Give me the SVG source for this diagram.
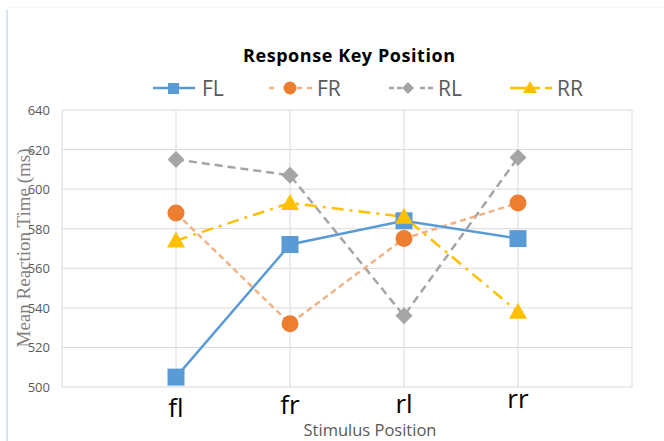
<svg xmlns="http://www.w3.org/2000/svg" width="664" height="441" viewBox="0 0 664 441">
<style>
.grid{stroke:#d9d9d9;stroke-width:1;fill:none}
.tick{font-family:"Open Sans","Liberation Sans",sans-serif;font-size:13px;fill:#595959;text-anchor:end}
.cat{font-family:"Open Sans","Liberation Sans",sans-serif;font-size:26px;fill:#000;text-anchor:middle}
.leg{font-family:"Open Sans","Liberation Sans",sans-serif;font-size:21px;fill:#595959}
.fl{stroke:#5b9bd5;stroke-width:2.5;fill:none}
.fr{stroke:#f4b183;stroke-width:2.5;fill:none;stroke-dasharray:6 4}
.rl{stroke:#a5a5a5;stroke-width:2.5;fill:none;stroke-dasharray:8 5}
.rr{stroke:#ffc000;stroke-width:2.5;fill:none;stroke-dasharray:12 6 3 6}
</style>
<defs>
<rect id="sq" x="-8.5" y="-8.5" width="17" height="17" fill="#5b9bd5"/>
<circle id="ci" r="8.5" fill="#ed7d31"/>
<polygon id="di" points="0,-8.5 8.5,0 0,8.5 -8.5,0" fill="#a5a5a5"/>
<polygon id="tr" points="0,-9 9,7 -9,7" fill="#ffc000"/>
</defs>
<rect width="664" height="441" fill="#fff"/>
<line x1="7" y1="10" x2="7" y2="441" stroke="#c5d9f1" stroke-width="1.5"/>
<line x1="7" y1="7" x2="664" y2="7" stroke="#f2f2f2" stroke-width="1"/>
<g id="title"><text x="349" y="62" font-family="'Open Sans','Liberation Sans',sans-serif" font-size="18" font-weight="bold" text-anchor="middle" textLength="212" fill="#000">Response Key Position</text></g>
<g id="legend">
<line class="fl" x1="153" y1="88" x2="195" y2="88" style="stroke-dasharray:none"/><rect x="168" y="83" width="11" height="11" fill="#5b9bd5"/><text class="leg" x="202" y="96">FL</text>
<line class="fr" x1="269" y1="88" x2="312" y2="88" style="stroke-dasharray:5 23 5"/><circle cx="290" cy="88" r="6.5" fill="#ed7d31"/><text class="leg" x="317" y="96">FR</text>
<line class="rl" x1="389" y1="88" x2="433" y2="88" style="stroke-dasharray:5 3 5 18 5 3"/><polygon points="408,82 414,88 408,94 402,88" fill="#a5a5a5"/><text class="leg" x="438" y="96">RL</text>
<line class="rr" x1="510" y1="88" x2="552" y2="88" style="stroke-dasharray:30 5"/><polygon points="530,81 537,93 523,93" fill="#ffc000"/><text class="leg" x="557" y="96">RR</text>
</g>
<g id="grid">
<line class="grid" x1="62" y1="110" x2="632" y2="110"/>
<line class="grid" x1="62" y1="149.6" x2="632" y2="149.6"/>
<line class="grid" x1="62" y1="189.1" x2="632" y2="189.1"/>
<line class="grid" x1="62" y1="228.7" x2="632" y2="228.7"/>
<line class="grid" x1="62" y1="268.3" x2="632" y2="268.3"/>
<line class="grid" x1="62" y1="307.9" x2="632" y2="307.9"/>
<line class="grid" x1="62" y1="347.4" x2="632" y2="347.4"/>
<line class="grid" x1="62" y1="387" x2="632" y2="387"/>
<line class="grid" x1="62" y1="110" x2="62" y2="387"/>
<line class="grid" x1="176" y1="110" x2="176" y2="387"/>
<line class="grid" x1="290" y1="110" x2="290" y2="387"/>
<line class="grid" x1="404" y1="110" x2="404" y2="387"/>
<line class="grid" x1="518" y1="110" x2="518" y2="387"/>
<line class="grid" x1="632" y1="110" x2="632" y2="387"/>
</g>
<g id="yaxis">
<text class="tick" x="50" y="115">640</text>
<text class="tick" x="50" y="154.6">620</text>
<text class="tick" x="50" y="194.1">600</text>
<text class="tick" x="50" y="233.7">580</text>
<text class="tick" x="50" y="273.3">560</text>
<text class="tick" x="50" y="312.9">540</text>
<text class="tick" x="50" y="352.4">520</text>
<text class="tick" x="50" y="392">500</text>
<text transform="translate(30,248) rotate(-90)" font-family="'Liberation Serif',serif" font-size="19" fill="#7f7f7f" text-anchor="middle" textLength="199">Mean Reaction Time (ms)</text>
</g>
<g id="xaxis">
<text class="cat" x="176" y="417">fl</text>
<text class="cat" x="290" y="414">fr</text>
<text class="cat" x="404" y="413">rl</text>
<text class="cat" x="518" y="408">rr</text>
<text x="370" y="436" font-family="'Open Sans','Liberation Sans',sans-serif" font-size="16.5" fill="#595959" text-anchor="middle">Stimulus Position</text>
</g>
<g id="connectors">
<polyline class="rl" points="176,159.5 290,175.3 404,315.8 518,157.5"/>
<polyline class="fr" points="176,212.9 290,323.7 404,238.6 518,203"/>
<polyline class="rr" points="176,240.6 290,203 404,216.8 518,311.8"/>
<polyline class="fl" points="176,377.1 290,244.5 404,220.8 518,238.6"/>
</g>
<g id="series-RL">
<use href="#di" x="176" y="159.5"/><use href="#di" x="290" y="175.3"/><use href="#di" x="404" y="315.8"/><use href="#di" x="518" y="157.5"/>
</g>
<g id="series-FL">
<use href="#sq" x="176" y="377.1"/><use href="#sq" x="290" y="244.5"/><use href="#sq" x="404" y="220.8"/><use href="#sq" x="518" y="238.6"/>
</g>
<g id="series-FR">
<use href="#ci" x="176" y="212.9"/><use href="#ci" x="290" y="323.7"/><use href="#ci" x="404" y="238.6"/><use href="#ci" x="518" y="203"/>
</g>
<g id="series-RR">
<use href="#tr" x="176" y="240.6"/><use href="#tr" x="290" y="203"/><use href="#tr" x="404" y="216.8"/><use href="#tr" x="518" y="311.8"/>
</g>
</svg>
